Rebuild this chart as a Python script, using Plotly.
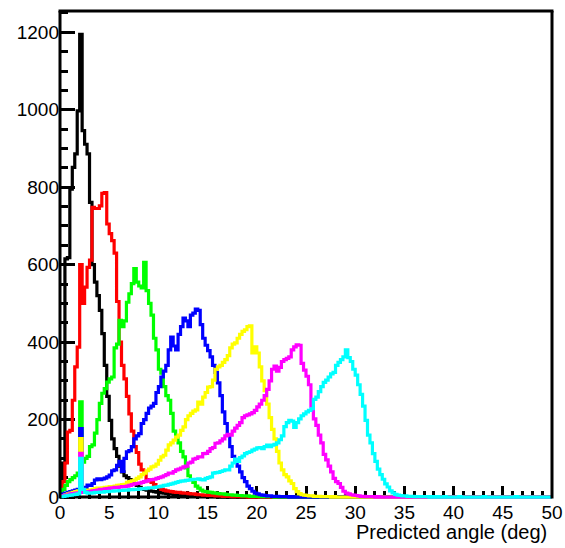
import plotly.graph_objects as go

# Binning: 200 bins of 0.25 deg over 0-50 deg
X_MIN, X_MAX, N_BINS = 0.0, 50.0, 200
BIN_WIDTH = (X_MAX - X_MIN) / N_BINS
Y_MAX = 1255

X_TITLE = "Predicted angle (deg)"

counts_black = [
    25, 88, 615, 618, 795, 851, 886, 997, 1195, 946, 911, 886, 761, 600, 555, 520, 482, 422, 340, 260,
    198, 150, 125, 105, 80, 65, 55, 50, 45, 42, 35, 30, 25, 22, 20, 18, 16, 15, 14, 13,
    12, 11, 10, 9, 8, 8, 7, 6, 6, 5, 5, 4, 4, 3, 3, 3, 2, 2, 2, 2,
    1, 1, 1, 1, 1, 0, 1, 0, 0, 1, 0, 0, 0, 0, 0, 0, 0, 0, 0, 0,
    0, 0, 0, 0, 0, 0, 0, 0, 0, 0, 0, 0, 0, 0, 0, 0, 0, 0, 0, 0,
    0, 0, 0, 0, 0, 0, 0, 0, 0, 0, 0, 0, 0, 0, 0, 0, 0, 0, 0, 0,
    0, 0, 0, 0, 0, 0, 0, 0, 0, 0, 0, 0, 0, 0, 0, 0, 0, 0, 0, 0,
    0, 0, 0, 0, 0, 0, 0, 0, 0, 0, 0, 0, 0, 0, 0, 0, 0, 0, 0, 0,
    0, 0, 0, 0, 0, 0, 0, 0, 0, 0, 0, 0, 0, 0, 0, 0, 0, 0, 0, 0,
    0, 0, 0, 0, 0, 0, 0, 0, 0, 0, 0, 0, 0, 0, 0, 0, 0, 0, 0, 0,
]

counts_red = [
    15, 40, 88, 168, 172, 250, 336, 387, 600, 500, 542, 593, 612, 748, 745, 745, 752, 784, 786, 705,
    680, 662, 630, 505, 400, 340, 305, 260, 215, 170, 130, 115, 85, 70, 60, 45, 42, 38, 32, 27,
    25, 20, 18, 16, 15, 14, 13, 12, 12, 11, 10, 10, 9, 8, 8, 7, 6, 6, 5, 5,
    4, 4, 4, 3, 3, 3, 2, 2, 2, 2, 1, 1, 1, 1, 1, 1, 0, 1, 0, 0,
    0, 0, 0, 0, 0, 0, 0, 0, 0, 0, 0, 0, 0, 0, 0, 0, 0, 0, 0, 0,
    0, 0, 0, 0, 0, 0, 0, 0, 0, 0, 0, 0, 0, 0, 0, 0, 0, 0, 0, 0,
    0, 0, 0, 0, 0, 0, 0, 0, 0, 0, 0, 0, 0, 0, 0, 0, 0, 0, 0, 0,
    0, 0, 0, 0, 0, 0, 0, 0, 0, 0, 0, 0, 0, 0, 0, 0, 0, 0, 0, 0,
    0, 0, 0, 0, 0, 0, 0, 0, 0, 0, 0, 0, 0, 0, 0, 0, 0, 0, 0, 0,
    0, 0, 0, 0, 0, 0, 0, 0, 0, 0, 0, 0, 0, 0, 0, 0, 0, 0, 0, 0,
]

counts_green = [
    10, 20, 30, 40, 45, 50, 55, 62, 246, 90, 100, 105, 130, 135, 165, 200, 242, 268, 280, 297,
    305, 310, 385, 395, 456, 440, 455, 503, 525, 551, 590, 555, 545, 540, 606, 533, 500, 470, 410, 380,
    330, 320, 285, 262, 250, 216, 170, 155, 140, 118, 104, 75, 55, 45, 38, 28, 23, 18, 15, 14,
    13, 12, 11, 10, 9, 8, 8, 7, 6, 6, 5, 5, 4, 4, 3, 3, 3, 2, 2, 2,
    2, 1, 1, 1, 1, 1, 1, 0, 1, 0, 0, 0, 0, 0, 0, 0, 0, 0, 0, 0,
    0, 0, 0, 0, 0, 0, 0, 0, 0, 0, 0, 0, 0, 0, 0, 0, 0, 0, 0, 0,
    0, 0, 0, 0, 0, 0, 0, 0, 0, 0, 0, 0, 0, 0, 0, 0, 0, 0, 0, 0,
    0, 0, 0, 0, 0, 0, 0, 0, 0, 0, 0, 0, 0, 0, 0, 0, 0, 0, 0, 0,
    0, 0, 0, 0, 0, 0, 0, 0, 0, 0, 0, 0, 0, 0, 0, 0, 0, 0, 0, 0,
    0, 0, 0, 0, 0, 0, 0, 0, 0, 0, 0, 0, 0, 0, 0, 0, 0, 0, 0, 0,
]

counts_blue = [
    5, 8, 10, 12, 14, 16, 18, 20, 177, 23, 25, 31, 30, 35, 44, 47, 45, 47, 49, 52,
    57, 68, 70, 82, 92, 66, 100, 117, 120, 130, 150, 158, 164, 190, 200, 216, 230, 235, 242, 270,
    285, 310, 325, 340, 380, 413, 390, 380, 420, 440, 462, 455, 440, 470, 475, 485, 482, 445, 410, 392,
    378, 362, 340, 322, 295, 262, 220, 190, 160, 130, 105, 92, 80, 65, 50, 40, 28, 22, 15, 10,
    8, 6, 5, 4, 3, 3, 2, 2, 2, 1, 1, 1, 1, 0, 1, 0, 0, 0, 0, 0,
    0, 0, 0, 0, 0, 0, 0, 0, 0, 0, 0, 0, 0, 0, 0, 0, 0, 0, 0, 0,
    0, 0, 0, 0, 0, 0, 0, 0, 0, 0, 0, 0, 0, 0, 0, 0, 0, 0, 0, 0,
    0, 0, 0, 0, 0, 0, 0, 0, 0, 0, 0, 0, 0, 0, 0, 0, 0, 0, 0, 0,
    0, 0, 0, 0, 0, 0, 0, 0, 0, 0, 0, 0, 0, 0, 0, 0, 0, 0, 0, 0,
    0, 0, 0, 0, 0, 0, 0, 0, 0, 0, 0, 0, 0, 0, 0, 0, 0, 0, 0, 0,
]

counts_yellow = [
    2, 4, 6, 8, 10, 12, 14, 16, 151, 16, 17, 18, 18, 20, 22, 23, 23, 24, 25, 26,
    27, 27, 28, 30, 31, 32, 33, 38, 40, 42, 44, 48, 52, 58, 62, 68, 72, 78, 80, 85,
    95, 104, 108, 121, 135, 140, 147, 155, 160, 172, 181, 200, 210, 216, 222, 225, 245, 240, 258, 270,
    284, 285, 302, 330, 336, 340, 348, 355, 365, 385, 395, 398, 410, 420, 428, 432, 440, 442, 372, 388,
    372, 336, 300, 275, 240, 205, 175, 150, 118, 88, 70, 58, 52, 42, 35, 22, 14, 9, 6, 5,
    4, 3, 3, 2, 2, 2, 1, 1, 1, 1, 0, 1, 0, 0, 0, 0, 0, 0, 0, 0,
    0, 0, 0, 0, 0, 0, 0, 0, 0, 0, 0, 0, 0, 0, 0, 0, 0, 0, 0, 0,
    0, 0, 0, 0, 0, 0, 0, 0, 0, 0, 0, 0, 0, 0, 0, 0, 0, 0, 0, 0,
    0, 0, 0, 0, 0, 0, 0, 0, 0, 0, 0, 0, 0, 0, 0, 0, 0, 0, 0, 0,
    0, 0, 0, 0, 0, 0, 0, 0, 0, 0, 0, 0, 0, 0, 0, 0, 0, 0, 0, 0,
]

counts_magenta = [
    2, 4, 5, 6, 8, 9, 10, 11, 113, 12, 13, 14, 15, 16, 17, 18, 20, 20, 21, 22,
    23, 24, 25, 25, 26, 27, 27, 28, 30, 32, 34, 35, 36, 38, 40, 42, 44, 45, 46, 48,
    50, 52, 55, 58, 62, 62, 66, 70, 72, 75, 78, 80, 88, 90, 98, 100, 104, 104, 112, 113,
    118, 125, 128, 139, 140, 145, 150, 158, 162, 160, 170, 178, 185, 192, 205, 210, 212, 215, 218, 224,
    233, 240, 250, 262, 278, 300, 330, 338, 325, 335, 350, 355, 358, 362, 380, 388, 393, 392, 345, 328,
    312, 290, 235, 202, 185, 160, 140, 110, 96, 80, 65, 48, 40, 35, 25, 15, 10, 8, 6, 5,
    4, 3, 2, 2, 1, 1, 1, 1, 0, 1, 0, 0, 0, 0, 0, 0, 0, 0, 0, 0,
    0, 0, 0, 0, 0, 0, 0, 0, 0, 0, 0, 0, 0, 0, 0, 0, 0, 0, 0, 0,
    0, 0, 0, 0, 0, 0, 0, 0, 0, 0, 0, 0, 0, 0, 0, 0, 0, 0, 0, 0,
    0, 0, 0, 0, 0, 0, 0, 0, 0, 0, 0, 0, 0, 0, 0, 0, 0, 0, 0, 0,
]

counts_cyan = [
    1, 2, 3, 4, 5, 6, 7, 8, 100, 20, 12, 10, 10, 11, 12, 12, 13, 13, 14, 14,
    15, 15, 16, 16, 17, 17, 18, 18, 19, 19, 20, 20, 21, 22, 22, 23, 24, 24, 25, 26,
    27, 28, 30, 31, 33, 34, 36, 38, 40, 41, 42, 43, 44, 45, 46, 46, 47, 45, 44, 48,
    50, 52, 62, 63, 64, 66, 68, 70, 70, 80, 88, 98, 92, 102, 106, 112, 115, 117, 121, 124,
    127, 128, 125, 130, 134, 130, 134, 136, 140, 148, 158, 182, 192, 198, 196, 180, 192, 202, 210, 215,
    220, 224, 228, 252, 258, 272, 285, 296, 302, 310, 318, 322, 340, 348, 355, 362, 380, 360, 350, 330,
    315, 290, 265, 235, 198, 160, 140, 112, 92, 72, 58, 46, 34, 26, 16, 11, 7, 5, 4, 3,
    3, 2, 2, 2, 1, 1, 1, 1, 1, 1, 0, 1, 0, 1, 0, 0, 1, 0, 0, 0,
    0, 0, 1, 0, 0, 0, 0, 0, 0, 0, 0, 0, 1, 0, 0, 0, 0, 0, 0, 0,
    0, 0, 0, 0, 0, 1, 0, 0, 0, 0, 0, 0, 0, 0, 0, 0, 0, 0, 0, 0,
]

# drawing order: later histograms are painted over earlier ones
series = [
    ("black", counts_black, "#000000"),
    ("red", counts_red, "#ff0000"),
    ("green", counts_green, "#00ff00"),
    ("blue", counts_blue, "#0000ff"),
    ("yellow", counts_yellow, "#ffff00"),
    ("magenta", counts_magenta, "#ff00ff"),
    ("cyan", counts_cyan, "#00ffff"),
]

edges = [X_MIN + i * BIN_WIDTH for i in range(N_BINS + 1)]


def step_outline(counts):
    """Histogram outline as points for an 'hv' step line."""
    xs = [edges[0]] + edges[:N_BINS] + [edges[N_BINS]]
    ys = [0] + list(counts) + [counts[-1]]
    return xs, ys


fig = go.Figure()
for name, counts, color in series:
    xs, ys = step_outline(counts)
    fig.add_trace(go.Scatter(
        x=xs, y=ys, mode="lines", name=name,
        line=dict(color=color, width=3.2, shape="hv"),
        hoverinfo="skip",
    ))

FONT = "Liberation Sans, Arial, Helvetica, sans-serif"

fig.update_layout(
    template="none",
    width=565, height=548, autosize=False,
    margin=dict(l=60.3, r=13.2, t=11.3, b=48.6, pad=0),
    paper_bgcolor="white", plot_bgcolor="white",
    showlegend=False,
    font=dict(family=FONT, size=19, color="black"),
    xaxis=dict(
        range=[X_MIN, X_MAX], tickmode="linear", tick0=0, dtick=5,
        ticks="inside", ticklen=13, tickwidth=3, tickcolor="black",
        minor=dict(dtick=1, tick0=0, ticks="inside", ticklen=8, tickwidth=3,
                   tickcolor="black", showgrid=False),
        showgrid=False, zeroline=False, showline=False, automargin=False,
        tickfont=dict(family=FONT, size=19, color="black"),
        layer="below traces",
    ),
    yaxis=dict(
        range=[-5, Y_MAX], tickmode="linear", tick0=0, dtick=200,
        ticks="inside", ticklen=15, tickwidth=3, tickcolor="black",
        minor=dict(dtick=50, tick0=0, ticks="inside", ticklen=8, tickwidth=3,
                   tickcolor="black", showgrid=False),
        showgrid=False, zeroline=False, showline=False, automargin=False,
        tickfont=dict(family=FONT, size=19, color="black"),
        layer="below traces",
    ),
)

# frame: bottom edge at y = 0 under the histograms, other edges on top
frame = dict(color="black", width=3)
fig.add_shape(type="line", xref="paper", yref="y", x0=0, x1=1, y0=0, y1=0,
              line=frame, layer="below")
fig.add_shape(type="line", xref="paper", yref="y", x0=0, x1=0, y0=-4, y1=Y_MAX,
              line=frame, layer="above")
fig.add_shape(type="line", xref="paper", yref="y", x0=1, x1=1, y0=-4, y1=Y_MAX,
              line=frame, layer="above")
fig.add_shape(type="line", xref="paper", yref="paper", x0=-0.003, x1=1.003, y0=1, y1=1,
              line=frame, layer="above")

fig.add_annotation(
    text=X_TITLE, xref="paper", yref="paper", x=0.9933, y=-0.068,
    xanchor="right", yanchor="middle", showarrow=False,
    font=dict(family=FONT, size=20, color="black"),
)

fig.write_html("out.html")
